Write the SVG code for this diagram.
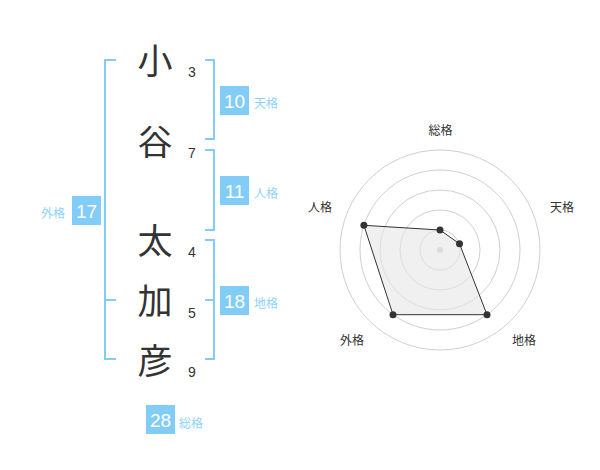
<svg xmlns="http://www.w3.org/2000/svg" width="600" height="470" viewBox="0 0 600 470">
<style>
.ch{font-family:"Noto Sans CJK JP","Noto Sans CJK SC",sans-serif;font-size:35px;fill:#333;text-anchor:middle}
.num{font-family:"Liberation Sans",Arial,sans-serif;font-size:14px;fill:#333}
.br{fill:none;stroke:#82cdf8;stroke-width:2}
.box{fill:#82cdf8}
.bt{font-family:"Liberation Sans",Arial,sans-serif;font-size:19px;fill:#fff;text-anchor:middle}
.lb{font-family:"Noto Sans CJK JP","Noto Sans CJK SC",sans-serif;font-size:12px;fill:#8fd2f8}
.rl{font-family:"Noto Sans CJK JP","Noto Sans CJK SC",sans-serif;font-size:12px;fill:#333;text-anchor:middle}
.ring{fill:none;stroke:#d0d0d0;stroke-width:1}
.pt{fill:#333}
</style>
<rect width="600" height="470" fill="#fff"/>
<g id="chars">
<g id="c1"><text class="ch" x="155" y="74">小</text><text class="num" x="188" y="77">3</text></g>
<g id="c2"><text class="ch" x="155" y="155">谷</text><text class="num" x="188" y="158">7</text></g>
<g id="c3"><text class="ch" x="155" y="254">太</text><text class="num" x="188" y="257">4</text></g>
<g id="c4"><text class="ch" x="155" y="314">加</text><text class="num" x="188" y="318">5</text></g>
<g id="c5"><text class="ch" x="155" y="374">彦</text><text class="num" x="188" y="377">9</text></g>
</g>
<g id="connectors">
<path class="br" d="M116,60 H105 V359 H116 M105,300 H116"/>
<path class="br" d="M205,60 H214 V139 H205"/>
<path class="br" d="M205,150 H214 V230 H205"/>
<path class="br" d="M205,240 H214 V359 H205 M205,300 H214"/>
</g>
<g id="tenkaku"><rect class="box" x="220" y="86" width="29" height="29"/><text class="bt" x="234.5" y="107.5">10</text><text class="lb" x="254" y="108">天格</text></g>
<g id="jinkaku"><rect class="box" x="220" y="176" width="29" height="29"/><text class="bt" x="234.5" y="197.5">11</text><text class="lb" x="254" y="198">人格</text></g>
<g id="chikaku"><rect class="box" x="220" y="286" width="29" height="29"/><text class="bt" x="234.5" y="307.5">18</text><text class="lb" x="254" y="308">地格</text></g>
<g id="gaikaku"><rect class="box" x="72" y="196" width="29" height="29"/><text class="bt" x="86.5" y="217.5">17</text><text class="lb" x="41" y="218">外格</text></g>
<g id="soukaku"><rect class="box" x="146" y="405" width="29" height="29"/><text class="bt" x="160.5" y="426.5">28</text><text class="lb" x="179" y="428">総格</text></g>
<g id="radar">
<circle class="ring" cx="440" cy="250" r="20"/>
<circle class="ring" cx="440" cy="250" r="40"/>
<circle class="ring" cx="440" cy="250" r="60"/>
<circle class="ring" cx="440" cy="250" r="80"/>
<circle class="ring" cx="440" cy="250" r="100"/>
<circle cx="440" cy="250" r="3" fill="#ccc"/>
<polygon points="440,230 459.5,243.8 487,314.7 393,314.7 363.9,225.3" fill="#e6e6e6" fill-opacity="0.6" stroke="#333" stroke-width="1"/>
<circle class="pt" cx="440" cy="230" r="3.5"/>
<circle class="pt" cx="459.5" cy="243.8" r="3.5"/>
<circle class="pt" cx="487" cy="314.7" r="3.5"/>
<circle class="pt" cx="393" cy="314.7" r="3.5"/>
<circle class="pt" cx="363.9" cy="225.3" r="3.5"/>
<text class="rl" x="440.5" y="135">総格</text>
<text class="rl" x="562" y="212">天格</text>
<text class="rl" x="524" y="345">地格</text>
<text class="rl" x="352" y="345">外格</text>
<text class="rl" x="320" y="212">人格</text>
</g>
</svg>
